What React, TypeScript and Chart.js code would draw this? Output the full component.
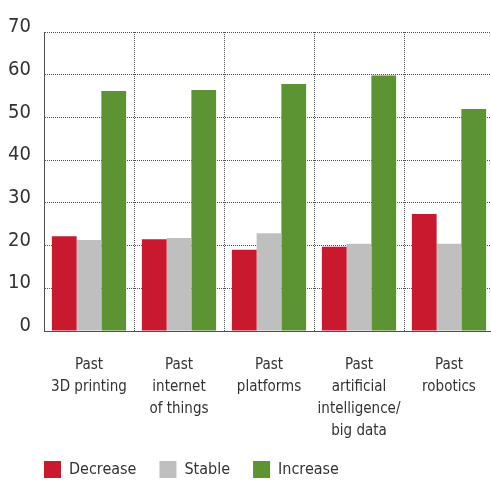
import React, { useEffect, useRef } from "react";
import { Chart, registerables } from "chart.js";

Chart.register(...registerables);

const categories: string[][] = [
  ["", "Past", "3D printing"],
  ["", "Past", "internet", "of things"],
  ["", "Past", "platforms"],
  ["", "Past", "artificial", "intelligence/", "big data"],
  ["", "Past", "robotics"],
];
const decreaseValues = [22.2, 21.5, 19.0, 19.7, 27.4];
const stableValues = [21.3, 21.8, 22.9, 20.4, 20.4];
const increaseValues = [56.2, 56.4, 57.8, 59.8, 52.0];
const yTicks = [0, 10, 20, 30, 40, 50, 60, 70];

const FONT = "'Liberation Sans Narrow', 'DejaVu Sans Condensed', sans-serif";
const GRID = "#505050";
const LEGEND_PAD = 23;

export default function App() {
  const ref = useRef<HTMLCanvasElement | null>(null);
  useEffect(() => {
    if (!ref.current) return;
    const chart = new Chart(ref.current, {
      type: "bar",
      data: {
        labels: categories,
        datasets: [
          { label: "Decrease", data: decreaseValues, backgroundColor: "#C8192E" },
          { label: "Stable", data: stableValues, backgroundColor: "#BFBFBF" },
          { label: "Increase", data: increaseValues, backgroundColor: "#5C9433" },
        ],
      },
      options: {
        animation: false,
        responsive: false,
        maintainAspectRatio: false,
        layout: { padding: { left: 0, right: 0, top: 32, bottom: 0 } },
        datasets: { bar: { categoryPercentage: 0.825, barPercentage: 1 } },
        plugins: {
          tooltip: { enabled: false },
          legend: {
            position: "bottom",
            align: "start",
            labels: {
              boxWidth: 17,
              boxHeight: 17,
              padding: LEGEND_PAD,
              color: "#333",
              font: { family: FONT, size: 16 },
            },
          },
        },
        scales: {
          x: {
            afterFit: (scale: any) => {
              scale.height = 112;
            },
            grid: {
              offset: true,
              color: GRID,
              lineWidth: 1,
              drawTicks: false,
              tickLength: 0,
            },
            border: { display: true, color: GRID, dash: [1, 1] },
            ticks: {
              color: "#333",
              padding: 2,
              maxRotation: 0,
              autoSkip: false,
              font: { family: FONT, size: 15, lineHeight: "21.7px" },
            },
          },
          y: {
            min: 0,
            max: 70,
            afterBuildTicks: (scale: any) => {
              scale.ticks = yTicks.map((v) => ({ value: v }));
            },
            afterFit: (scale: any) => {
              scale.width = 44;
            },
            grid: {
              color: GRID,
              lineWidth: 1,
              drawTicks: false,
              tickLength: 0,
            },
            border: { display: true, color: GRID, dash: [1, 1] },
            ticks: {
              color: "#333",
              padding: 13,
              labelOffset: -5,
              font: { family: FONT, size: 20 },
            },
          },
        },
      },
      plugins: [
        {
          id: "legendFix",
          beforeLayout: (c: any) => {
            const lg = c.legend;
            if (!lg || lg.__patched) return;
            const orig = lg.fit;
            lg.fit = function (this: any) {
              orig.call(this);
              this.height = 41;
            };
            lg.__patched = true;
          },
          afterLayout: (c: any) => {
            const lg = c.legend;
            if (!lg) return;
            const dx = 44 - LEGEND_PAD - lg.left;
            lg.left += dx;
            lg.right += dx;
            lg.top -= 5;
            lg.bottom -= 5;
          },
        },
      ],
    } as any);
    return () => chart.destroy();
  }, []);
  return (
    <div
      style={{
        position: "absolute",
        left: 0,
        top: 0,
        width: 491,
        height: 484,
        overflow: "hidden",
      }}
    >
      <canvas ref={ref} width={494} height={484} style={{ width: 494, height: 484 }} />
    </div>
  );
}
